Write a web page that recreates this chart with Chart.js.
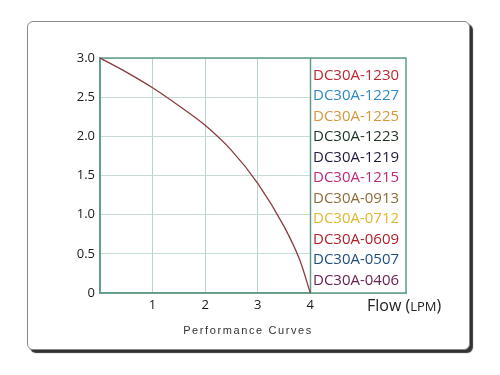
<!DOCTYPE html>
<html>
<head>
<meta charset="UTF-8">
<script src="https://cdn.jsdelivr.net/npm/chart.js"></script>
<style>
    body { margin: 0; background: #fff; font-family: "Open Sans", sans-serif; }
    #wrap { position: relative; width: 500px; height: 375px; overflow: hidden; }
    #frame {
        position: absolute; left: 27px; top: 21px; width: 441px; height: 327px;
        border: 1px solid #8a8a8a; border-radius: 6px;
        box-shadow: 3px 3px 1px #333;
        background: #fff;
    }
    canvas { position: absolute; left: 0; top: 0; }
    .flow { position: absolute; left: 367px; top: 294px; font-size: 16px; color: #222; white-space: nowrap; }
    .flow small { font-size: 13px; }
    .caption {
        position: absolute; left: -2px; width: 500px; top: 324px; text-align: center;
        font-family: "Liberation Sans", Arial, sans-serif; font-size: 11px;
        letter-spacing: 1.6px; color: #333;
    }
</style>
</head>
<body>
<div id="wrap">
    <div id="frame"></div>
    <canvas id="chart" width="500" height="375"></canvas>
    <div class="flow">Flow (<small>LPM</small>)</div>
    <div class="caption">Performance Curves</div>
</div>
<script>
    // curve: flow (LPM) vs pressure
    const flow = [0, 0.5, 1, 1.5, 2, 2.5, 3, 3.5, 3.8, 4]
    const pressure = [3.0, 2.82, 2.62, 2.39, 2.14, 1.82, 1.40, 0.85, 0.42, 0]
    const xTicks = [0, 1, 2, 3, 4]

    const MODELS = ['DC30A-1230','DC30A-1227','DC30A-1225','DC30A-1223','DC30A-1219','DC30A-1215',
                    'DC30A-0913','DC30A-0712','DC30A-0609','DC30A-0507','DC30A-0406']
    const MODEL_COLORS = ['#c1272d','#2f8ac4','#d8963c','#1e3324','#1f1c3d','#c2297a',
                          '#8f6b3c','#e2b72f','#b3202c','#1f4f7e','#6b2253']

    const GREEN = '#5f9c86'

    // white legend box at the right of the plot, plus the top/right frame
    const legendBox = {
        id: 'legendBox',
        beforeDatasetsDraw(chart) {
            const { ctx, chartArea: a, scales } = chart
            const x4 = Math.round(scales.x.getPixelForValue(4)) + 0.5
            ctx.save()
            ctx.fillStyle = '#fff'
            ctx.fillRect(x4, a.top + 1, a.right - x4, a.bottom - a.top - 1)
            ctx.strokeStyle = GREEN
            ctx.lineWidth = 1.5
            ctx.strokeRect(a.left, a.top, a.right - a.left, a.bottom - a.top)
            ctx.beginPath()
            ctx.moveTo(x4, a.top)
            ctx.lineTo(x4, a.bottom)
            ctx.stroke()
            ctx.font = '15px "Open Sans"'
            ctx.textBaseline = 'alphabetic'
            MODELS.forEach((m, i) => {
                ctx.fillStyle = MODEL_COLORS[i]
                ctx.fillText(m, x4 + 2.5, a.top + 21.5 + i * 20.5)
            })
            ctx.restore()
        }
    }

    new Chart(document.getElementById('chart'), {
        type: 'line',
        data: {
            datasets: [{
                data: flow.map((f, i) => ({ x: f, y: pressure[i] })),
                borderColor: '#8c3b3d',
                borderWidth: 1.3,
                pointRadius: 0,
                cubicInterpolationMode: 'monotone',
                fill: false
            }]
        },
        options: {
            responsive: false,
            animation: false,
            layout: { padding: { left: 55, right: 94, top: 58, bottom: 57 } },
            plugins: { legend: { display: false }, tooltip: { enabled: false } },
            scales: {
                x: {
                    type: 'linear', min: 0, max: 5.82,
                    afterBuildTicks: s => { s.ticks = xTicks.map(v => ({ value: v })) },
                    afterFit: s => { s.height = 25 },
                    grid: { color: '#bcd3cb', drawTicks: false },
                    border: { color: GREEN, width: 1.5 },
                    ticks: {
                        padding: 4, color: '#1a1a1a',
                        font: { family: 'Open Sans', size: 13 },
                        callback: v => v === 0 ? '' : String(v)
                    }
                },
                y: {
                    min: 0, max: 3,
                    afterFit: s => { s.width = 45 },
                    grid: { color: '#c6dbd3', drawTicks: false },
                    border: { color: GREEN, width: 1.5 },
                    ticks: {
                        stepSize: 0.5, padding: 5, color: '#1a1a1a',
                        font: { family: 'Open Sans', size: 13 },
                        callback: v => v === 0 ? '0' : v.toFixed(1)
                    }
                }
            }
        },
        plugins: [legendBox]
    })
</script>
</body>
</html>
